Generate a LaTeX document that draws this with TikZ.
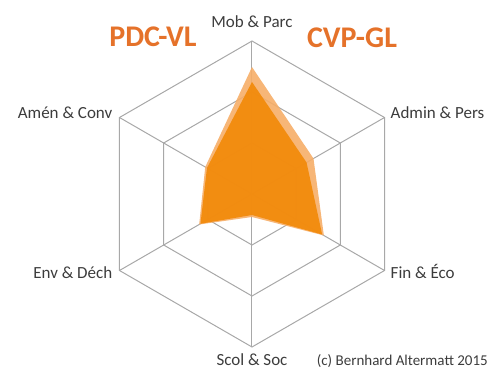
\documentclass[tikz,border=0pt]{standalone}
\usepackage{fontspec}
\setmainfont{Carlito}
\usetikzlibrary{positioning}
\definecolor{gridgray}{HTML}{A8A8A8}
\definecolor{cvporange}{HTML}{F6AE68}
\definecolor{pdcorange}{HTML}{F28A0A}
\definecolor{titleorange}{HTML}{E5722A}
\definecolor{labelgray}{HTML}{3C3C3C}
\tikzset{
  axislabel/.style={font=\fontsize{17}{17}\selectfont, text=labelgray, inner sep=0pt},
  partytitle/.style={font=\fontsize{30}{30}\selectfont\bfseries, text=titleorange, inner sep=0pt},
  gridline/.style={draw=gridgray, line width=1pt},
}

\begin{document}
\begin{tikzpicture}[x=1pt,y=1pt]
  \useasboundingbox (-252,-181) rectangle (239,194);
  \coordinate (c) at (0,0);
  \foreach \ang/\lab in {90/mob, 30/admin, -30/fin, -90/scol, 210/env, 150/amen} {
    \coordinate (\lab) at (\ang:153);
  }
  % grid
  \foreach \r in {51,102,153} {
    \draw[gridline] (90:\r) -- (30:\r) -- (-30:\r) -- (-90:\r) -- (210:\r) -- (150:\r) -- cycle;
  }
  \foreach \lab in {mob,admin,fin,scol,env,amen} {
    \draw[gridline] (c) -- (\lab);
  }
  % data, CVP-GL behind PDC-VL
  \fill[cvporange, fill opacity=.9] (90:127) -- (30:71) -- (-30:83) -- (-90:23) -- (210:61) -- (150:54) -- cycle;
  \fill[pdcorange, fill opacity=.93] (90:112) -- (30:63) -- (-30:81) -- (-90:21) -- (210:59.5) -- (150:52) -- cycle;
  % axis labels
  \foreach \lab/\anc/\dx/\dy/\txt in {
    mob/base/0/13.5/{Mob \& Parc},
    admin/base west/6/-1.5/{Admin \& Pers},
    fin/base west/6/-8.5/{Fin \& Éco},
    scol/base/0/-18.5/{Scol \& Soc},
    env/base east/-7/-8.5/{Env \& Déch},
    amen/base east/-7/-1.5/{Amén \& Conv}%
  } {
    \node[axislabel, anchor=\anc] (\lab-l) at ([xshift=\dx, yshift=\dy]\lab) {\txt};
  }
  \node[partytitle] (pdc) at (-99,157) {PDC-VL};
  \node[partytitle] (cvp) at (100,156) {CVP-GL};
  \node[anchor=base east, inner sep=0pt, text=labelgray, font=\fontsize{15}{15}\selectfont] (copy) at (236,-171.5) {(c) Bernhard Altermatt 2015};
\end{tikzpicture}
\end{document}
